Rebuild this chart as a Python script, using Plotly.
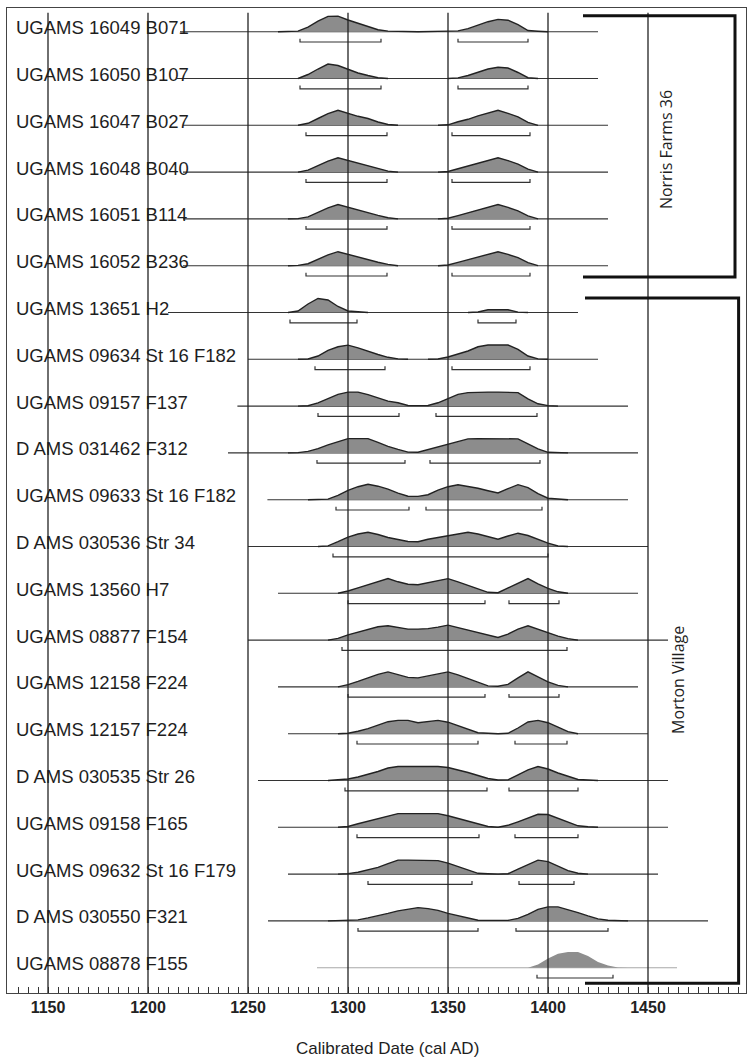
import plotly.graph_objects as go

# ---------------- data ----------------
LABELS = [
    "UGAMS 16049 B071", "UGAMS 16050 B107", "UGAMS 16047 B027", "UGAMS 16048 B040",
    "UGAMS 16051 B114", "UGAMS 16052 B236", "UGAMS 13651 H2", "UGAMS 09634 St 16 F182",
    "UGAMS 09157 F137", "D AMS 031462 F312", "UGAMS 09633 St 16 F182", "D AMS 030536 Str 34",
    "UGAMS 13560 H7", "UGAMS 08877 F154", "UGAMS 12158 F224", "UGAMS 12157 F224",
    "D AMS 030535 Str 26", "UGAMS 09158 F165", "UGAMS 09632 St 16 F179", "D AMS 030550 F321",
    "UGAMS 08878 F155",
]

BIN_DATES = [1260, 1265, 1270, 1275, 1280, 1285, 1290, 1295, 1300, 1305, 1310, 1315, 1320,
             1325, 1330, 1335, 1340, 1345, 1350, 1355, 1360, 1365, 1370, 1375, 1380, 1385,
             1390, 1395, 1400, 1405, 1410, 1415, 1420, 1425, 1430, 1435, 1440]

# probability (drawn height, px) at each BIN_DATES entry, one list per sample
DENSITY = [
    [0, 0, .5, .6, 4.5, 10.5, 15.3, 15.5, 11.7, 8.5, 5, 2, .6, .5, .4, 0, .4, .5, .6, .8, 3, 6.5, 10, 12.3, 11.5, 7, 1.2, .5, 0, 0, 0, 0, 0, 0, 0, 0, 0],
    [0, 0, 0, 0, 4, 9.5, 14.5, 13, 9, 5.5, 3, .8, 0, 0, 0, 0, 0, 0, 0, .6, 3, 6.5, 9.5, 11.3, 10.5, 6, .8, 0, 0, 0, 0, 0, 0, 0, 0, 0, 0],
    [0, 0, 0, 0, 2, 6.8, 11.7, 15, 11.7, 9, 6.8, 3.3, .8, 0, 0, 0, 0, 0, .5, 3.5, 6, 9.5, 12.5, 15, 12, 8.5, 3, 0, 0, 0, 0, 0, 0, 0, 0, 0, 0],
    [0, 0, 0, 0, 2, 6.5, 11, 14.3, 11.5, 9, 6.5, 3.5, 1, 0, 0, 0, 0, 0, .6, 3.3, 6, 9.3, 12, 14.3, 11.5, 8, 3, 0, 0, 0, 0, 0, 0, 0, 0, 0, 0],
    [0, 0, 0, .3, 2, 6.5, 11, 14.3, 11.5, 9, 6.5, 3.5, 1.2, 0, 0, 0, 0, 0, .6, 3.3, 6, 9.3, 12, 14.3, 11.5, 8, 3, 0, 0, 0, 0, 0, 0, 0, 0, 0, 0],
    [0, 0, 0, .3, 2, 6.3, 10.8, 14, 11.3, 8.8, 6.3, 3.5, 1.3, 0, 0, 0, 0, 0, .7, 3.3, 6, 9.2, 12, 14, 11.3, 8, 3, 0, 0, 0, 0, 0, 0, 0, 0, 0, 0],
    [0, 0, 0, 1.5, 8.5, 14, 12.5, 6, 1.5, .4, 0, 0, 0, 0, 0, 0, 0, 0, 0, 0, 0, .5, 2.7, 2.7, 2.7, .4, 0, 0, 0, 0, 0, 0, 0, 0, 0, 0, 0],
    [0, 0, 0, 0, .3, 3.3, 9, 12.5, 14.2, 11.5, 8, 4.8, 2, .4, 0, 0, 0, .3, 2.3, 5, 8.3, 12.5, 14.3, 14.3, 14.3, 10, 3.3, .4, 0, 0, 0, 0, 0, 0, 0, 0, 0],
    [0, 0, 0, 0, .4, 3.3, 7.3, 11.7, 14, 14, 11.5, 8, 5, 3.3, .6, .5, .6, 3.3, 7.3, 11.7, 13.5, 14, 14, 14, 14, 13.5, 7.3, 2.3, .5, 0, 0, 0, 0, 0, 0, 0, 0],
    [0, 0, 0, .3, 1.5, 4.3, 8, 11.5, 14.3, 14.3, 14.3, 10.5, 6.5, 3.5, .8, .6, 3.3, 6.3, 9.3, 12, 14, 14.3, 14.3, 14.3, 14.3, 14, 9, 4, .6, .5, 0, 0, 0, 0, 0, 0, 0],
    [0, 0, 0, 0, 0, .5, .6, 4.3, 9.3, 13, 15.5, 13.5, 10.5, 6.5, 3.5, 3.3, 5, 9.5, 13, 15, 13.5, 11.5, 9, 6.7, 11, 15, 12, 6, 1.5, .5, 0, 0, 0, 0, 0, 0, 0],
    [0, 0, 0, 0, 0, 0, .6, 4.8, 9.3, 12.5, 14.3, 12, 9, 7, 5, 4.8, 7.3, 9, 10.7, 13, 14.3, 12.5, 10, 7.3, 10.5, 13.3, 11, 7, 3.3, .5, 0, 0, 0, 0, 0, 0, 0],
    [0, 0, 0, 0, 0, 0, 0, 0, 2.3, 5.5, 8.5, 12, 14.7, 11.5, 9, 8.5, 10.5, 13, 14.7, 11.5, 8, 4.5, 1, .6, 5.5, 10.5, 14.7, 9.5, 5, 1.5, 0, 0, 0, 0, 0, 0, 0],
    [0, 0, 0, 0, 0, 0, 0, 1.7, 5.3, 8, 11, 13.3, 14.3, 13, 11, 11, 11.5, 13, 15, 12.5, 10, 7.5, 5, 2.7, 6, 11, 14.3, 11, 7, 4, 1.5, 0, 0, 0, 0, 0, 0],
    [0, 0, 0, 0, 0, 0, 0, 0, 2.3, 5.5, 9, 12.5, 15, 12, 9.5, 9, 11, 13.5, 15, 12, 8.5, 4.5, 1, .6, 2.5, 9, 15, 10, 5, 1.5, 0, 0, 0, 0, 0, 0, 0],
    [0, 0, 0, 0, 0, 0, 0, 0, .5, 2.5, 5, 8.5, 12, 13.3, 13.3, 11, 12.5, 13.3, 11.5, 8, 4.5, 1, .5, 0, .4, 5.7, 11.7, 13.3, 11, 6.5, 2, 0, 0, 0, 0, 0, 0],
    [0, 0, 0, 0, 0, 0, 0, .5, 1.5, 3.5, 6, 9, 12.5, 14, 14, 14, 14, 14, 13, 10.7, 8, 5, 2, .5, .6, 5.7, 10.7, 14, 11.5, 7.5, 4, 1, .5, 0, 0, 0, 0],
    [0, 0, 0, 0, 0, 0, 0, 0, .8, 3.5, 6, 8.5, 11, 13.7, 13.7, 13.7, 13.7, 13.7, 11.5, 9, 6, 3.5, .8, 0, 2, 5.5, 9.3, 13, 12.8, 9, 4.5, 1.5, .5, 0, 0, 0, 0],
    [0, 0, 0, 0, 0, 0, 0, 0, .5, 1.8, 4, 6.7, 10.5, 14, 14, 14, 14, 13.5, 11, 7.5, 4, .8, .4, 0, .4, 5, 9.5, 14, 12.5, 8, 3.5, .8, 0, 0, 0, 0, 0],
    [0, 0, 0, 0, 0, 0, 0, .3, .5, 1, 3, 5, 7.5, 10, 12, 13.3, 12.3, 10.5, 7.5, 5, 2.7, .7, .5, .5, .5, 2.5, 6.5, 11.5, 14, 14, 11.5, 8.3, 5, 2, .6, .5, 0],
    [0, 0, 0, 0, 0, 0, 0, 0, 0, 0, 0, 0, 0, 0, 0, 0, 0, 0, 0, 0, 0, 0, 0, 0, 0, 0, 0, 3.3, 9.3, 14, 15.7, 15.7, 11.7, 5.7, 2.3, .3, 0],
]

# 95% highest-probability ranges (cal AD)
RANGES_95 = [
    [(1276, 1316.5), (1355, 1390)],
    [(1276, 1316.5), (1355, 1390)],
    [(1279, 1319.5), (1352, 1391)],
    [(1279, 1319.5), (1352, 1391)],
    [(1279, 1319.5), (1352, 1391)],
    [(1279, 1319.5), (1352, 1391)],
    [(1271, 1304.5), (1365, 1384)],
    [(1283.5, 1318.5), (1352, 1391)],
    [(1285, 1325.5), (1344, 1394.5)],
    [(1284.5, 1328.5), (1341, 1396)],
    [(1294, 1330.5), (1339, 1397)],
    [(1292.5, 1400)],
    [(1300, 1368.5), (1380.5, 1405.5)],
    [(1297, 1409.5)],
    [(1300, 1368.5), (1380.5, 1405.5)],
    [(1304.5, 1365), (1383.5, 1409.5)],
    [(1298.5, 1369.5), (1380.5, 1415)],
    [(1304.5, 1365.5), (1383.5, 1415)],
    [(1310, 1362), (1385.5, 1413)],
    [(1305, 1365), (1384, 1430)],
    [(1394.5, 1432.5)],
]

# extent of the (unmodelled) likelihood line of each sample
LINE_SPAN = [
    (1216, 1425), (1214.5, 1425), (1217.5, 1430), (1217.5, 1430), (1217.5, 1430),
    (1217.5, 1430), (1210, 1415), (1250, 1425), (1244.7, 1440), (1240, 1445),
    (1259.7, 1440), (1250, 1450), (1265, 1445), (1250, 1460), (1265, 1445),
    (1270, 1450), (1255, 1460), (1265, 1460), (1270, 1455), (1260, 1480),
    (1284.5, 1464.5),
]

GROUP_NAMES = ["Norris Farms 36", "Morton Village"]
GROUP_ROWS = [(0, 5), (6, 20)]

TICK_YEARS = [1150, 1200, 1250, 1300, 1350, 1400, 1450]
X_TITLE = "Calibrated Date (cal AD)"

# ---------------- layout constants ----------------
W, H = 752, 1057
ML, MR, MT, MB = 7, 6, 8, 64
PLOT_H = H - MT - MB
ROW_PX = 46.8
FIRST_ROW_PX = 23.7          # first baseline below plot top
Y_TOP = -FIRST_ROW_PX / ROW_PX
Y_BOT = (PLOT_H - FIRST_ROW_PX) / ROW_PX
K = 1.0 / ROW_PX             # px -> row units

DARK = "#222222"
FILL = "#8c8c8c"
GHOST = "#a8a8a8"

fig = go.Figure()
n = len(LABELS)
last = n - 1

# likelihood lines
for i, (a, b) in enumerate(LINE_SPAN):
    fig.add_trace(go.Scatter(
        x=[a, b], y=[i, i], mode="lines",
        line=dict(color=GHOST if i == last else "#333333", width=1.1),
        hoverinfo="skip", showlegend=False))

# posterior distributions
for i, h in enumerate(DENSITY):
    fx, fy, lx, ly = [], [], [], []
    j = 0
    m = len(h)
    while j < m:
        if h[j] > 0:
            k = j
            while k < m and h[k] > 0:
                k += 1
            a = max(j - 1, 0)
            b = min(k, m - 1)
            xs = BIN_DATES[a:b + 1]
            ys = [i - v * K for v in h[a:b + 1]]
            fx += xs + [xs[-1], xs[0], None]
            fy += ys + [i, i, None]
            lx += xs + [None]
            ly += ys + [None]
            j = k
        else:
            j += 1
    ghost = (i == last)
    fig.add_trace(go.Scatter(
        x=fx, y=fy, mode="lines", fill="toself",
        fillcolor=FILL if not ghost else "#8e8e8e",
        line=dict(width=0, color="rgba(0,0,0,0)"),
        hoverinfo="skip", showlegend=False))
    if not ghost:
        fig.add_trace(go.Scatter(
            x=lx, y=ly, mode="lines", line=dict(color=DARK, width=1.4),
            hoverinfo="skip", showlegend=False))

# 95% range brackets
bx, by = [], []
for i, rngs in enumerate(RANGES_95):
    yb = i + 10.3 * K
    yt = i + 7.0 * K
    for a, b in rngs:
        bx += [a, a, b, b, None]
        by += [yt, yb, yb, yt, None]
fig.add_trace(go.Scatter(x=bx, y=by, mode="lines", line=dict(color="#333333", width=1.2),
                         hoverinfo="skip", showlegend=False))

shapes = []
# vertical grid lines at the labelled years
for yr in TICK_YEARS:
    shapes.append(dict(type="line", xref="x", yref="paper", x0=yr, x1=yr,
                       y0=0, y1=(PLOT_H - 4.7) / PLOT_H,
                       line=dict(color=DARK, width=1.3), layer="above"))

# group brackets
br_left = [1417.5, 1418.5]
br_right = [1493.5, 1495.3]
br_pad = [(0.34, 0.24), (0.31, 0.33)]
for g, (r0, r1) in enumerate(GROUP_ROWS):
    y0 = r0 - br_pad[g][0]
    y1 = r1 + br_pad[g][1]
    xl, xr = br_left[g], br_right[g]
    shapes.append(dict(type="path", xref="x", yref="y",
                       path=f"M {xl},{y0} L {xr},{y0} L {xr},{y1} L {xl},{y1}",
                       line=dict(color="#111111", width=3), layer="above"))

annotations = []
for i, lab in enumerate(LABELS):
    annotations.append(dict(
        x=(14 - ML) / (W - ML - MR), xref="paper", y=i - 4.0 * K, yref="y",
        text=lab, showarrow=False, xanchor="left", yanchor="middle",
        font=dict(family="Liberation Sans, Arial", size=18.5, color="#1e1e1e")))

grp_label_x = [1459, 1465]
grp_label_y = [2.53, 13.85]
for g, name in enumerate(GROUP_NAMES):
    annotations.append(dict(
        x=grp_label_x[g], xref="x", y=grp_label_y[g], yref="y", text=name,
        textangle=-90, showarrow=False, xanchor="center", yanchor="middle",
        font=dict(family="Open Sans, Liberation Sans", size=16, color="#1e1e1e")))

annotations.append(dict(
    x=(387.5 - ML) / (W - ML - MR), xref="paper", y=-(1048 - MT - PLOT_H) / PLOT_H,
    yref="paper", text=X_TITLE, showarrow=False, xanchor="center", yanchor="middle",
    font=dict(family="Liberation Sans, Arial", size=17, color="#1e1e1e")))

fig.update_layout(
    width=W, height=H, margin=dict(l=ML, r=MR, t=MT, b=MB),
    paper_bgcolor="white", plot_bgcolor="white",
    shapes=shapes, annotations=annotations, showlegend=False,
    xaxis=dict(
        range=[1129.5, 1499], tickmode="array", tickvals=TICK_YEARS,
        ticktext=[str(t) for t in TICK_YEARS],
        ticks="inside", ticklen=6, tickcolor="#333333", tickwidth=1,
        minor=dict(tick0=1150, dtick=5, ticks="inside", ticklen=6,
                   tickcolor="#333333", tickwidth=1, showgrid=False),
        showgrid=False, zeroline=False, showline=True, mirror=True,
        linecolor="#444444", linewidth=1.3,
        tickfont=dict(family="Liberation Sans, Arial", size=16, color="#222222",
                      weight="bold"),
        fixedrange=True),
    yaxis=dict(
        range=[Y_BOT, Y_TOP], showticklabels=False, showgrid=False, zeroline=False,
        showline=True, mirror=True, linecolor="#444444", linewidth=1.3, ticks="",
        fixedrange=True),
)

fig.write_html(
    "out.html",
    config={"displayModeBar": False},
    post_script="document.body.style.margin='0';document.body.style.overflow='hidden';",
)
